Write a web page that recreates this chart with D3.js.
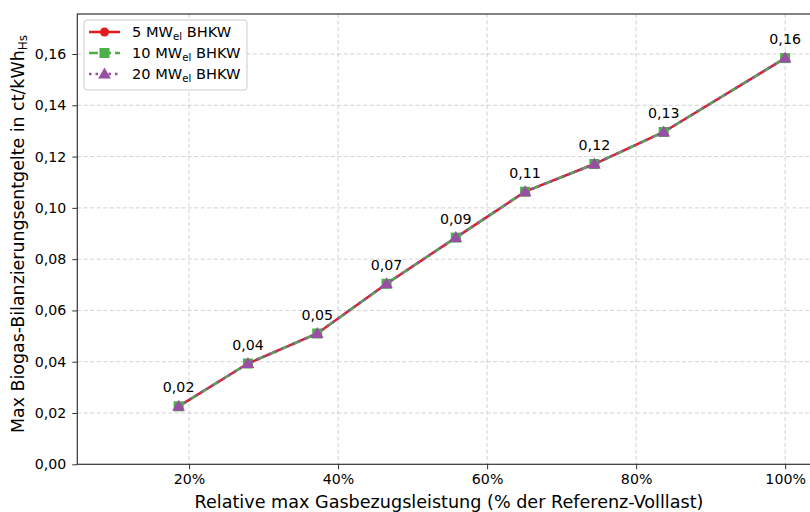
<!DOCTYPE html>
<html><head><meta charset="utf-8">
<script src="https://cdn.jsdelivr.net/npm/d3@7"></script>
<style>
body{margin:0;background:#fff;}
text{font-family:"DejaVu Sans",sans-serif;fill:#000;}
</style></head>
<body><svg id="c" width="810" height="512"></svg>
<script>
const xValues = [18.6, 27.9, 37.2, 46.5, 55.8, 65.1, 74.4, 83.7, 100];
const series5 = [0.0226, 0.0393, 0.0510, 0.0704, 0.0884, 0.1063, 0.1171, 0.1296, 0.1584];
const series10 = [0.0226, 0.0393, 0.0510, 0.0704, 0.0884, 0.1063, 0.1171, 0.1296, 0.1584];
const series20 = [0.0226, 0.0393, 0.0510, 0.0704, 0.0884, 0.1063, 0.1171, 0.1296, 0.1584];
const pointLabels = ["0,02","0,04","0,05","0,07","0,09","0,11","0,12","0,13","0,16"];
const xTicks = [20, 40, 60, 80, 100];
const yTicks = [0, 0.02, 0.04, 0.06, 0.08, 0.10, 0.12, 0.14, 0.16];
const seriesNames = ["5", "10", "20"];

const svg = d3.select("#c");
const L = 77.3, T = 14, B = 464.3, R = 822.4;
const x = d3.scaleLinear().domain([5, 105]).range([L, R]);
const y = d3.scaleLinear().domain([0, 0.1756]).range([B, T]);

// grid
const grid = svg.append("g");
xTicks.forEach(t => grid.append("line").attr("x1", x(t)).attr("x2", x(t)).attr("y1", T).attr("y2", B)
  .attr("stroke", "#b0b0b0").attr("stroke-width", 0.8).attr("stroke-dasharray", "4,2.5").attr("opacity", 0.7));
yTicks.slice(1).forEach(t => grid.append("line").attr("x1", L).attr("x2", R).attr("y1", y(t)).attr("y2", y(t))
  .attr("stroke", "#b0b0b0").attr("stroke-width", 0.8).attr("stroke-dasharray", "4,2.5").attr("opacity", 0.7));

// axes
const xAxis = svg.append("g").attr("transform", `translate(0,${B})`)
  .call(d3.axisBottom(x).tickValues(xTicks).tickFormat(d => d + "%").tickSize(5).tickPadding(5));
const yAxis = svg.append("g").attr("transform", `translate(${L},0)`)
  .call(d3.axisLeft(y).tickValues(yTicks).tickFormat(d => d3.format(".2f")(d).replace(".", ",")).tickSize(5).tickPadding(6));
[xAxis, yAxis].forEach(a => {
  a.select(".domain").remove();
  a.selectAll("line").attr("stroke", "#333").attr("stroke-width", 1);
  a.selectAll("text").attr("font-size", 14.2).attr("font-family", "DejaVu Sans").attr("fill", "#000");
});
// spines
svg.append("rect").attr("x", L).attr("y", T).attr("width", R - L).attr("height", B - T)
  .attr("fill", "none").attr("stroke", "#333").attr("stroke-width", 1.2);

const data = xValues.map((v, i) => ({x: v, a: series5[i], b: series10[i], c: series20[i], lab: pointLabels[i]}));
const line = key => d3.line().x(d => x(d.x)).y(d => y(d[key]));

const red = "#e41a1c", green = "#4daf4a", purple = "#984ea3";
svg.append("path").datum(data).attr("d", line("a")).attr("fill", "none").attr("stroke", red).attr("stroke-width", 2.5);
svg.append("g").selectAll("circle").data(data).join("circle")
  .attr("cx", d => x(d.x)).attr("cy", d => y(d.a)).attr("r", 4.5).attr("fill", red);
svg.append("path").datum(data).attr("d", line("b")).attr("fill", "none").attr("stroke", green).attr("stroke-width", 2.5)
  .attr("stroke-dasharray", "9,4");
svg.append("g").selectAll("rect").data(data).join("rect")
  .attr("x", d => x(d.x) - 5).attr("y", d => y(d.b) - 5).attr("width", 10).attr("height", 10).attr("fill", green);
svg.append("path").datum(data).attr("d", line("c")).attr("fill", "none").attr("stroke", purple).attr("stroke-width", 2.5)
  .attr("stroke-dasharray", "2.5,4");
const tri = d3.symbol().type(d3.symbolTriangle).size(70);
svg.append("g").selectAll("path").data(data).join("path")
  .attr("d", tri).attr("transform", d => `translate(${x(d.x)},${y(d.c) + 0.8})`).attr("fill", purple);

// point labels
svg.append("g").selectAll("text").data(data).join("text")
  .attr("x", d => x(d.x)).attr("y", d => y(d.a) - 14).attr("text-anchor", "middle")
  .attr("font-size", 14.2).text(d => d.lab);

// axis labels
svg.append("text").attr("x", 449).attr("y", 508).attr("text-anchor", "middle")
  .attr("font-size", 17.6).text("Relative max Gasbezugsleistung (% der Referenz-Volllast)");
const yl = svg.append("text").attr("transform", `translate(24,234) rotate(-90)`)
  .attr("text-anchor", "middle").attr("font-size", 17.4);
yl.append("tspan").text("Max Biogas-Bilanzierungsentgelte in ct/kWh");
yl.append("tspan").attr("font-size", 12).attr("dy", 3).text("Hs");

// legend
const lg = svg.append("g");
lg.append("rect").attr("x", 84).attr("y", 20).attr("width", 163).attr("height", 70).attr("rx", 3)
  .attr("fill", "#fff").attr("fill-opacity", 0.8).attr("stroke", "#ccc").attr("stroke-width", 1);
const rows = [
  {c: red, dash: null, m: "circle"},
  {c: green, dash: "9,4", m: "square"},
  {c: purple, dash: "2.5,4", m: "tri"}
];
rows.forEach((r, i) => {
  const cy = 32 + i * 21;
  const ln = lg.append("line").attr("x1", 89).attr("x2", 120).attr("y1", cy).attr("y2", cy)
    .attr("stroke", r.c).attr("stroke-width", 2.5);
  if (r.dash) ln.attr("stroke-dasharray", r.dash);
  if (r.m === "circle") lg.append("circle").attr("cx", 104.5).attr("cy", cy).attr("r", 4.5).attr("fill", r.c);
  if (r.m === "square") lg.append("rect").attr("x", 99.5).attr("y", cy - 5).attr("width", 10).attr("height", 10).attr("fill", r.c);
  if (r.m === "tri") lg.append("path").attr("d", tri).attr("transform", `translate(104.5,${cy + 0.8})`).attr("fill", r.c);
  const t = lg.append("text").attr("x", 132).attr("y", cy + 5).attr("font-size", 14.6);
  t.append("tspan").text(seriesNames[i] + " MW");
  t.append("tspan").attr("font-size", 10.2).attr("dy", 3).text("el");
  t.append("tspan").attr("dy", -3).text(" BHKW");
});
</script></body></html>
